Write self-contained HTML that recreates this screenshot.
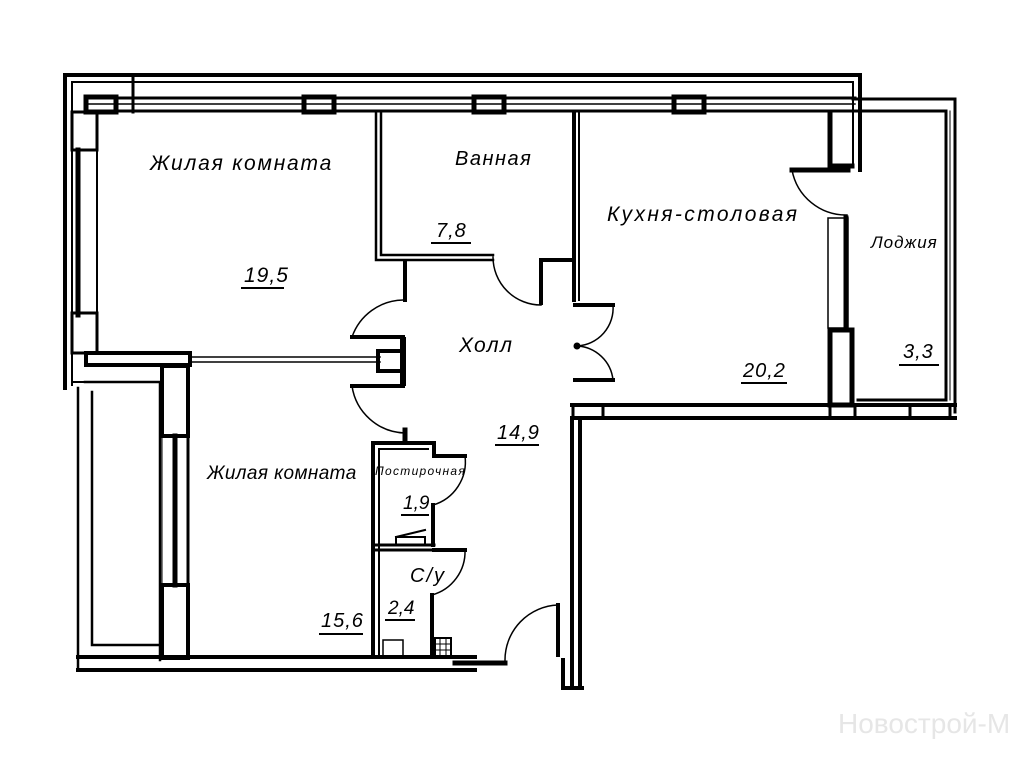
<!DOCTYPE html>
<html><head><meta charset="utf-8"><style>
html,body{margin:0;padding:0;background:#fff;}
svg{display:block}
text{font-family:"Liberation Sans",sans-serif;font-style:italic;fill:#000;}
</style></head><body>
<svg width="1024" height="768" viewBox="0 0 1024 768" xmlns="http://www.w3.org/2000/svg">
<g fill="none" stroke="#000" stroke-linecap="square">
<path d="M65 388 V75 H860 V170" stroke-width="4"/>
<path d="M72 385 V82 H853 V165" stroke-width="2"/>
<path d="M85 98 H855 M85 111 H855" stroke-width="3"/>
<path d="M85 104 H855" stroke-width="1.5"/>
<rect x="86" y="97" width="30" height="15" stroke-width="5"/>
<rect x="304" y="97" width="30" height="15" stroke-width="5"/>
<rect x="474" y="97" width="30" height="15" stroke-width="5"/>
<rect x="674" y="97" width="30" height="15" stroke-width="5"/>
<path d="M133 78 V112" stroke-width="3"/>
<path d="M830 112 V166 H852" stroke-width="5"/>
<path d="M792 170 H848" stroke-width="5"/>
<path d="M792 170 A55 55 0 0 0 847 215" stroke-width="1.5"/>
<path d="M853 99 H955 V412 M853 111 H946 V400 H858" stroke-width="3"/>
<path d="M950 111 V400" stroke-width="1"/>
<rect x="828" y="218" width="20" height="110" stroke-width="1.5"/>
<path d="M846 218 V328" stroke-width="5"/>
<rect x="830" y="330" width="22" height="75" stroke-width="5"/>
<path d="M572 405 H955 M572 418 H955" stroke-width="4"/>
<rect x="573" y="405" width="30" height="13" stroke-width="3"/>
<rect x="830" y="405" width="25" height="13" stroke-width="3"/>
<rect x="910" y="405" width="40" height="13" stroke-width="3"/>
<path d="M78 150 V315" stroke-width="5"/>
<rect x="72" y="112" width="25" height="38" stroke-width="3"/>
<rect x="72" y="313" width="25" height="40" stroke-width="3"/>
<path d="M97 112 V353" stroke-width="2"/>
<path d="M86 353 H190 V365 H86 Z" stroke-width="4"/>
<path d="M190 357 H380 M190 362 H380" stroke-width="1.5"/>
<rect x="378" y="351" width="25" height="20" stroke-width="4"/>
<path d="M403 340 V383" stroke-width="6"/>
<path d="M403 300 A55 55 0 0 0 352 337" stroke-width="1.5"/>
<path d="M352 337 H403" stroke-width="4"/>
<path d="M352 386 H403" stroke-width="4"/>
<path d="M352 386 A55 55 0 0 0 405 433" stroke-width="1.5"/>
<path d="M405 430 V442" stroke-width="5"/>
<path d="M405 262 V300" stroke-width="4"/>
<path d="M376 112 V260 H493 M381 112 V255 H493" stroke-width="2.5"/>
<path d="M493 257 A48 48 0 0 0 541 305" stroke-width="1.5"/>
<path d="M541 303 V260 H572 M574 112 V300" stroke-width="4"/>
<path d="M579 112 V300" stroke-width="2"/>
<path d="M613 305 A38 38 0 0 1 577 346 A38 38 0 0 1 613 380" stroke-width="1.5"/>
<path d="M575 305 H613 M575 380 H613" stroke-width="4"/>
<circle cx="577" cy="346" r="3" fill="#000"/>
<path d="M572 418 V685 M580 418 V685" stroke-width="4"/>
<path d="M563 660 V688 H582" stroke-width="4"/>
<path d="M78 388 V668 M85 382 H160 V660 M92 392 V645 H158" stroke-width="2.5"/>
<path d="M72 382 H160" stroke-width="2"/>
<rect x="162" y="366" width="26" height="70" stroke-width="4"/>
<rect x="162" y="585" width="26" height="73" stroke-width="4"/>
<path d="M175 436 V585" stroke-width="5"/>
<path d="M162 436 V585 M188 436 V585" stroke-width="1"/>
<path d="M78 657 H475 M78 670 H475" stroke-width="4"/>
<path d="M188 658 V365" stroke-width="3"/>
<path d="M455 663 H505" stroke-width="5"/>
<path d="M505 660 A55 55 0 0 1 558 605" stroke-width="1.5"/>
<path d="M558 605 V655" stroke-width="4"/>
<path d="M373 655 V443 H434 V456 H465" stroke-width="4"/>
<path d="M379 655 V449 H428" stroke-width="2"/>
<path d="M465 456 A45 45 0 0 1 433 505" stroke-width="1.5"/>
<path d="M433 505 V545" stroke-width="4"/>
<path d="M376 545 H434 M376 550 H434" stroke-width="3"/>
<path d="M465 550 A45 45 0 0 1 432 595" stroke-width="1.5"/>
<path d="M434 550 H465 M432 595 V657" stroke-width="4"/>
<path d="M396 537 L425 530 M396 543 V537 H425 V545" stroke-width="2"/>
<rect x="383" y="640" width="20" height="16" stroke-width="1.5"/>
<rect x="435" y="638" width="16" height="18" stroke-width="2"/>
<path d="M440 638 V656 M446 638 V656 M435 644 H451 M435 650 H451" stroke-width="1"/>
<path d="M242 288 H283 M432 243 H470 M742 383 H786 M900 365 H938 M496 445 H538 M402 515 H428 M386 620 H414 M320 634 H362" stroke-width="2"/>
</g>
<text x="150" y="170" font-size="21" letter-spacing="1.8">Жилая комната</text>
<text x="455" y="165" font-size="20" letter-spacing="1.5">Ванная</text>
<text x="436" y="237" font-size="20" letter-spacing="1">7,8</text>
<text x="244" y="282" font-size="21" letter-spacing="1">19,5</text>
<text x="607" y="221" font-size="21" letter-spacing="2.4">Кухня-столовая</text>
<text x="871" y="248" font-size="17" letter-spacing="1">Лоджия</text>
<text x="459" y="352" font-size="21" letter-spacing="1.5">Холл</text>
<text x="743" y="377" font-size="20" letter-spacing="1">20,2</text>
<text x="903" y="358" font-size="20" letter-spacing="1">3,3</text>
<text x="497" y="439" font-size="20" letter-spacing="1">14,9</text>
<text x="207" y="479" font-size="19" letter-spacing="0.4">Жилая комната</text>
<text x="375" y="475" font-size="12" letter-spacing="1.3">Постирочная</text>
<text x="403" y="509" font-size="19">1,9</text>
<text x="410" y="582" font-size="20" letter-spacing="2">С/у</text>
<text x="388" y="614" font-size="19">2,4</text>
<text x="321" y="627" font-size="20" letter-spacing="1">15,6</text>
<text x="838" y="733" font-size="28" style="font-style:normal;fill:#e6e6e6">Новострой-М</text>
</svg>
</body></html>
